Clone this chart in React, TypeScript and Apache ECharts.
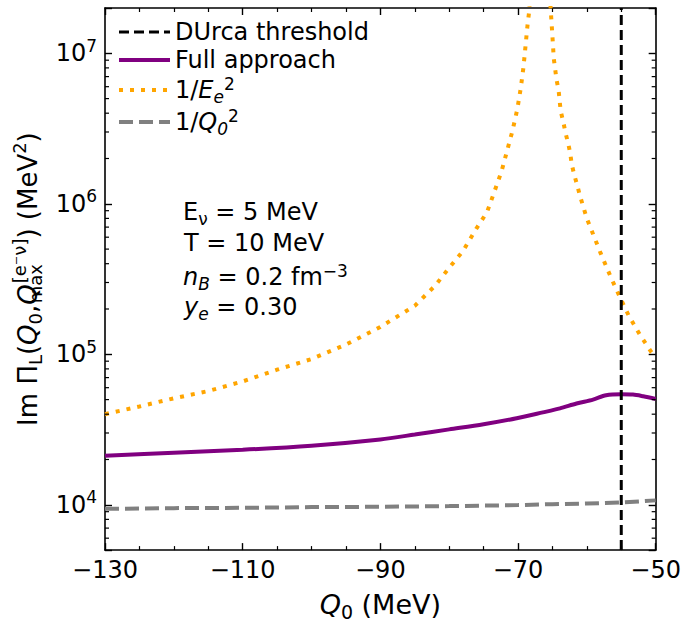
import React, { useEffect, useRef } from 'react';
import * as echarts from 'echarts';

const FONT = 'DejaVu Sans';

// Axis ranges / ticks
const X_MIN = -130;
const X_MAX = -50;
const X_STEP = 20;
const Y_MIN = 5000;
const Y_MAX = 2e7;
const Y_MINOR = [
  6e3, 7e3, 8e3, 9e3,
  2e4, 3e4, 4e4, 5e4, 6e4, 7e4, 8e4, 9e4,
  2e5, 3e5, 4e5, 5e5, 6e5, 7e5, 8e5, 9e5,
  2e6, 3e6, 4e6, 5e6, 6e6, 7e6, 8e6, 9e6,
];

// DUrca threshold position
const THRESHOLD_Q0 = -55;

// Full approach (purple)
const FULL_Q0 = [-130, -120, -110, -100, -90, -85, -80, -75, -70.2, -66.4, -63.9, -61.5, -59.1, -57.2, -55, -53.3, -51.8, -50];
const FULL_VAL = [2.12e4, 2.22e4, 2.32e4, 2.47e4, 2.72e4, 2.93e4, 3.17e4, 3.43e4, 3.76e4, 4.11e4, 4.37e4, 4.71e4, 5.0e4, 5.34e4, 5.42e4, 5.4e4, 5.26e4, 5.05e4];

// 1/E_e^2 (orange dotted)
const EE_Q0 = [-130, -125, -120, -115, -110, -105, -100, -95, -90, -85, -82, -80, -78, -76, -74.5, -73.5, -72.4, -71.6, -70.8, -70.1, -69.6, -69.2, -68.9, -68.6, -68.4, -68.1, -65.5, -65.2, -65.0, -64.8, -64.4, -64.1, -63.8, -63.4, -63.1, -62.7, -62.4, -62.2, -61.8, -61.4, -61.0, -60, -58, -56.5, -55.2, -53.9, -52.3, -50.6, -50];
const EE_VAL = [4.0e4, 4.5e4, 5.1e4, 5.7e4, 6.6e4, 7.9e4, 9.3e4, 1.16e5, 1.52e5, 2.1e5, 2.87e5, 3.76e5, 4.85e5, 6.9e5, 8.8e5, 1.18e6, 1.64e6, 2.24e6, 3.06e6, 4.26e6, 5.87e6, 8.13e6, 1.13e7, 1.57e7, 1.86e7, 3.0e7, 3.0e7, 1.8e7, 1.3e7, 9.2e6, 6.67e6, 5.68e6, 4.13e6, 3.47e6, 2.96e6, 2.51e6, 2.15e6, 1.83e6, 1.54e6, 1.33e6, 1.13e6, 8.0e5, 4.7e5, 3.24e5, 2.4e5, 1.8e5, 1.35e5, 1.03e5, 9.6e4];

// 1/Q0^2 (gray dashed)
const QQ_Q0 = [-130, -120, -110, -100, -90, -80, -70, -65, -60, -55, -50];
const QQ_VAL = [9.4e3, 9.5e3, 9.55e3, 9.65e3, 9.7e3, 9.8e3, 9.95e3, 1.01e4, 1.02e4, 1.035e4, 1.07e4];

const NAMES = ['DUrca threshold', 'Full approach', '1/E_e^2', '1/Q_0^2'];

const zip = (xs: number[], ys: number[]) => xs.map((x, i) => [x, ys[i]]);

const AXIS_LINE = { show: true, onZero: false, lineStyle: { color: '#000', width: 1.6 } };
const MAJOR_TICK = { show: true, inside: true, length: 7, lineStyle: { color: '#000', width: 1.4 } };
const MINOR_TICK = { show: true, splitNumber: 4, length: 4, lineStyle: { color: '#000', width: 1.2 } };

const legendFormatter = (name: string) => {
  if (name === '1/E_e^2') return '1/{i|E}{sub|e}{sup|2}';
  if (name === '1/Q_0^2') return '1/{i|Q}{sub|0}{sup|2}';
  return name;
};

const option: any = {
  animation: false,
  backgroundColor: '#fff',
  grid: { left: 105, right: 28, top: 8, bottom: 66, containLabel: false },
  legend: {
    data: NAMES,
    orient: 'vertical',
    left: 112,
    top: 14,
    itemWidth: 51,
    itemHeight: 14,
    itemGap: 2,
    selectedMode: false,
    itemStyle: { opacity: 0 },
    lineStyle: { width: 'inherit', type: 'inherit', color: 'inherit' },
    textStyle: {
      fontFamily: FONT,
      fontSize: 24,
      lineHeight: 26,
      color: '#000',
      rich: {
        i: { fontFamily: FONT, fontSize: 24, fontStyle: 'italic', lineHeight: 30, color: '#000' },
        sub: { fontFamily: FONT, fontSize: 17, fontStyle: 'italic', lineHeight: 14, verticalAlign: 'bottom', color: '#000' },
        sup: { fontFamily: FONT, fontSize: 17, lineHeight: 14, verticalAlign: 'top', color: '#000' },
      },
    },
    formatter: legendFormatter,
  },
  xAxis: [
    {
      type: 'value',
      position: 'bottom',
      min: X_MIN,
      max: X_MAX,
      interval: X_STEP,
      axisLine: AXIS_LINE,
      axisTick: MAJOR_TICK,
      minorTick: MINOR_TICK,
      splitLine: { show: false },
      axisLabel: {
        fontFamily: FONT,
        fontSize: 24,
        color: '#000',
        margin: 8,
        formatter: (v: number) => (v < 0 ? '\u2212' + -v : String(v)),
      },
      name: '{i|Q}{sub|0} (MeV)',
      nameLocation: 'middle',
      nameGap: 33,
      nameTextStyle: {
        fontFamily: FONT,
        fontSize: 27,
        color: '#000',
        lineHeight: 34,
        rich: {
          i: { fontFamily: FONT, fontSize: 27, fontStyle: 'italic', lineHeight: 34, color: '#000' },
          sub: { fontFamily: FONT, fontSize: 19, lineHeight: 19, verticalAlign: 'bottom', color: '#000' },
        },
      },
    },
    {
      type: 'value',
      position: 'top',
      min: X_MIN,
      max: X_MAX,
      interval: X_STEP,
      axisLine: AXIS_LINE,
      axisTick: MAJOR_TICK,
      minorTick: MINOR_TICK,
      splitLine: { show: false },
      axisLabel: { show: false },
    },
  ],
  yAxis: [
    {
      type: 'log',
      logBase: 10,
      position: 'left',
      min: Y_MIN,
      max: Y_MAX,
      axisLine: AXIS_LINE,
      axisTick: MAJOR_TICK,
      splitLine: { show: false },
      axisLabel: {
        margin: 8,
        color: '#000',
        formatter: (v: number) => {
          const l = Math.log10(v);
          const e = Math.round(l);
          if (Math.abs(l - e) > 1e-6) return '';
          return `{b|10}{s|${e}}`;
        },
        rich: {
          b: { fontFamily: FONT, fontSize: 24, lineHeight: 32, color: '#000' },
          s: { fontFamily: FONT, fontSize: 17, lineHeight: 17, verticalAlign: 'top', color: '#000' },
        },
      },
      name: 'Im \u03a0{sub|L}({i|Q}{sub|0},{i|Q}{subw|max}{sup|[e\u207b\u03bd]}) (MeV{sup|2})',
      nameLocation: 'middle',
      nameGap: 55,
      nameTextStyle: {
        fontFamily: FONT,
        fontSize: 26,
        color: '#000',
        lineHeight: 34,
        rich: {
          i: { fontFamily: FONT, fontSize: 26, fontStyle: 'italic', lineHeight: 34, color: '#000' },
          sub: { fontFamily: FONT, fontSize: 18, lineHeight: 16, verticalAlign: 'bottom', color: '#000' },
          subw: { fontFamily: FONT, fontSize: 18, lineHeight: 16, verticalAlign: 'bottom', width: 1, color: '#000' },
          sup: { fontFamily: FONT, fontSize: 18, lineHeight: 16, verticalAlign: 'top', color: '#000' },
        },
      },
    },
    {
      type: 'log',
      logBase: 10,
      position: 'right',
      min: Y_MIN,
      max: Y_MAX,
      axisLine: AXIS_LINE,
      axisTick: MAJOR_TICK,
      splitLine: { show: false },
      axisLabel: { show: false },
    },
  ],
  graphic: [
    {
      type: 'text', x: 183, y: 212, z: 10,
      style: {
        text: 'E{sub|\u03bd} = 5 MeV', fontFamily: FONT, fontSize: 24, fill: '#000', verticalAlign: 'middle', lineHeight: 30,
        rich: { sub: { fontFamily: FONT, fontSize: 17, lineHeight: 17, verticalAlign: 'bottom', fill: '#000' } },
      },
    },
    {
      type: 'text', x: 184, y: 243, z: 10,
      style: { text: 'T = 10 MeV', fontFamily: FONT, fontSize: 24, fill: '#000', verticalAlign: 'middle' },
    },
    {
      type: 'text', x: 183, y: 277, z: 10,
      style: {
        text: '{i|n}{sub|B} = 0.2 fm{sup|\u22123}', fontFamily: FONT, fontSize: 24, fill: '#000', verticalAlign: 'middle', lineHeight: 30,
        rich: {
          i: { fontFamily: FONT, fontSize: 24, fontStyle: 'italic', lineHeight: 30, fill: '#000' },
          sub: { fontFamily: FONT, fontSize: 17, fontStyle: 'italic', lineHeight: 17, verticalAlign: 'bottom', fill: '#000' },
          sup: { fontFamily: FONT, fontSize: 17, lineHeight: 17, verticalAlign: 'top', fill: '#000' },
        },
      },
    },
    {
      type: 'text', x: 184, y: 307, z: 10,
      style: {
        text: '{i|y}{sub|e} = 0.30', fontFamily: FONT, fontSize: 24, fill: '#000', verticalAlign: 'middle', lineHeight: 30,
        rich: {
          i: { fontFamily: FONT, fontSize: 24, fontStyle: 'italic', lineHeight: 30, fill: '#000' },
          sub: { fontFamily: FONT, fontSize: 17, fontStyle: 'italic', lineHeight: 17, verticalAlign: 'bottom', fill: '#000' },
        },
      },
    },
  ],
  series: [
    {
      name: 'DUrca threshold',
      type: 'line',
      xAxisIndex: 0,
      yAxisIndex: 0,
      data: [[THRESHOLD_Q0, Y_MIN], [THRESHOLD_Q0, Y_MAX]],
      symbol: 'none',
      z: 5,
      lineStyle: { color: '#000', width: 3, type: [10, 5] },
      itemStyle: { color: '#000' },
    },
    {
      name: 'Full approach',
      type: 'line',
      data: zip(FULL_Q0, FULL_VAL),
      symbol: 'none',
      smooth: 0.3,
      z: 3,
      lineStyle: { color: '#800080', width: 4 },
      itemStyle: { color: '#800080' },
    },
    {
      name: '1/E_e^2',
      type: 'line',
      data: zip(EE_Q0, EE_VAL),
      symbol: 'none',
      clip: true,
      z: 3,
      lineStyle: { color: '#ffa500', width: 4, type: [4, 7] },
      itemStyle: { color: '#ffa500' },
    },
    {
      name: '1/Q_0^2',
      type: 'line',
      data: zip(QQ_Q0, QQ_VAL),
      symbol: 'none',
      z: 3,
      lineStyle: { color: '#808080', width: 4, type: [14, 6] },
      itemStyle: { color: '#808080' },
    },
    {
      name: 'minor-y-ticks',
      type: 'custom',
      silent: true,
      z: 6,
      data: Y_MINOR.map((v) => [X_MIN, v]),
      encode: { x: 0, y: 1 },
      renderItem: (params: any, api: any) => {
        const p = api.coord([api.value(0), api.value(1)]);
        const cs = params.coordSys;
        const left = cs.x;
        const right = cs.x + cs.width;
        const style = { stroke: '#000', lineWidth: 1.2 };
        return {
          type: 'group',
          children: [
            { type: 'line', shape: { x1: left, y1: p[1], x2: left + 4, y2: p[1] }, style },
            { type: 'line', shape: { x1: right - 4, y1: p[1], x2: right, y2: p[1] }, style },
          ],
        };
      },
    },
  ],
};

export default function App() {
  const ref = useRef<HTMLDivElement>(null);
  useEffect(() => {
    if (!ref.current) return;
    const chart = echarts.init(ref.current, null, { renderer: 'svg' });
    chart.setOption(option);
    return () => chart.dispose();
  }, []);
  return <div ref={ref} style={{ position: 'absolute', left: 0, top: 0, width: 684, height: 626 }} />;
}
